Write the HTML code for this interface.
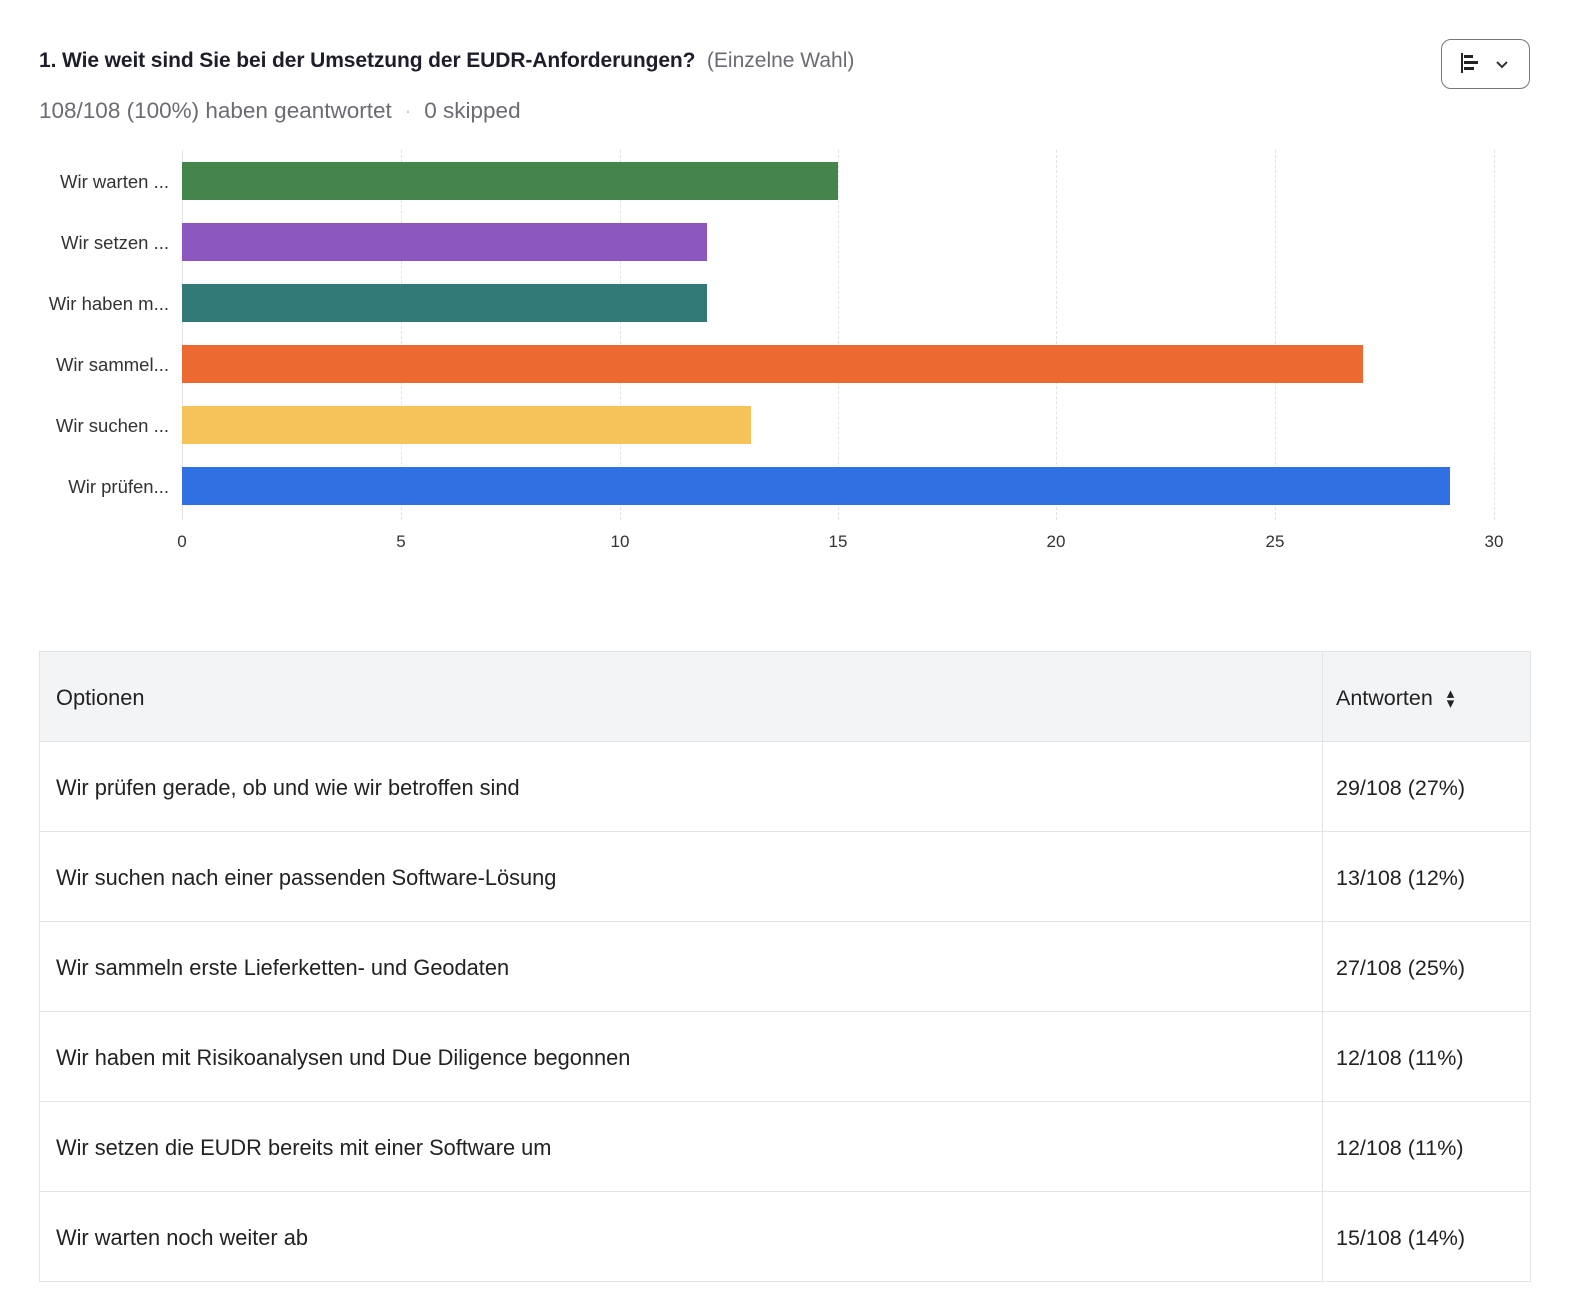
<!DOCTYPE html>
<html><head><meta charset="utf-8"><style>
body{margin:0;width:1574px;height:1316px;background:#fff;font-family:"Liberation Sans",sans-serif;position:relative;overflow:hidden}
.a{position:absolute;white-space:nowrap}
.lab{position:absolute;right:1405px;font-size:18.5px;color:#333;line-height:40px}
.bar{position:absolute;left:182px;height:38px}
.grid{position:absolute;top:150px;height:370px;border-left:1px dashed #e2e2e2}
.tick{position:absolute;top:532px;font-size:17px;color:#333;width:40px;text-align:center}
table{position:absolute;left:39px;top:651px;width:1492px;border-collapse:collapse;font-size:21.8px;color:#222}
td{border:1px solid #e3e4e6;height:86px;padding:3px 0 0 16px}
td.r{width:194px;padding-left:13px;font-size:21.5px}
tr.h td{background:#f3f4f6}
</style></head><body>
<div class="a" style="left:39px;top:49px;font-size:21px;font-weight:bold;color:#1e1e2a;letter-spacing:-0.1px">1. Wie weit sind Sie bei der Umsetzung der EUDR-Anforderungen? <span style="font-weight:normal;color:#6b6b73;letter-spacing:0">&nbsp;(Einzelne Wahl)</span></div>
<div class="a" style="left:39px;top:98px;font-size:22.5px;color:#6b6b73">108/108 (100%) haben geantwortet <span style="color:#ccc">&nbsp;·&nbsp;</span> 0 skipped</div>
<div class="a" style="left:1441px;top:39px;width:89px;height:50px;border:1px solid #777;border-radius:10px;box-sizing:border-box">
<svg width="88" height="49" style="position:absolute;left:-1px;top:-1px"><rect x="20" y="14" width="2" height="20" fill="#222"/><rect x="23" y="16" width="9" height="3" fill="#222"/><rect x="23" y="22" width="14" height="3" fill="#222"/><rect x="23" y="28" width="10" height="3" fill="#222"/><path d="M56 23 l5 5 l5 -5" stroke="#333" stroke-width="2" fill="none"/></svg></div>
<div class="grid" style="left:182px;border-left:1px solid #e6e6e6"></div>
<div class="grid" style="left:401px"></div><div class="grid" style="left:620px"></div><div class="grid" style="left:838px"></div><div class="grid" style="left:1056px"></div><div class="grid" style="left:1275px"></div><div class="grid" style="left:1494px"></div>
<div class="lab" style="top:162px">Wir warten ...</div>
<div class="lab" style="top:223px">Wir setzen ...</div>
<div class="lab" style="top:284px">Wir haben m...</div>
<div class="lab" style="top:345px">Wir sammel...</div>
<div class="lab" style="top:406px">Wir suchen ...</div>
<div class="lab" style="top:467px">Wir prüfen...</div>
<div class="bar" style="top:162px;width:656px;background:#43854a"></div>
<div class="bar" style="top:223px;width:525px;background:#8b57bf"></div>
<div class="bar" style="top:284px;width:525px;background:#327a78"></div>
<div class="bar" style="top:345px;width:1181px;background:#ec6a32"></div>
<div class="bar" style="top:406px;width:569px;background:#f5c35a"></div>
<div class="bar" style="top:467px;width:1268px;background:#3170e3"></div>
<div class="tick" style="left:162px">0</div><div class="tick" style="left:381px">5</div><div class="tick" style="left:600px">10</div><div class="tick" style="left:818px">15</div><div class="tick" style="left:1036px">20</div><div class="tick" style="left:1255px">25</div><div class="tick" style="left:1474px">30</div>
<table>
<tr class="h"><td>Optionen</td><td class="r">Antworten <span style="font-size:15px;display:inline-block;line-height:10px;vertical-align:middle;margin-left:8px">▴<br>▾</span></td></tr>
<tr><td>Wir prüfen gerade, ob und wie wir betroffen sind</td><td class="r">29/108 (27%)</td></tr>
<tr><td>Wir suchen nach einer passenden Software-Lösung</td><td class="r">13/108 (12%)</td></tr>
<tr><td>Wir sammeln erste Lieferketten- und Geodaten</td><td class="r">27/108 (25%)</td></tr>
<tr><td>Wir haben mit Risikoanalysen und Due Diligence begonnen</td><td class="r">12/108 (11%)</td></tr>
<tr><td>Wir setzen die EUDR bereits mit einer Software um</td><td class="r">12/108 (11%)</td></tr>
<tr><td>Wir warten noch weiter ab</td><td class="r">15/108 (14%)</td></tr>
</table>
</body></html>
